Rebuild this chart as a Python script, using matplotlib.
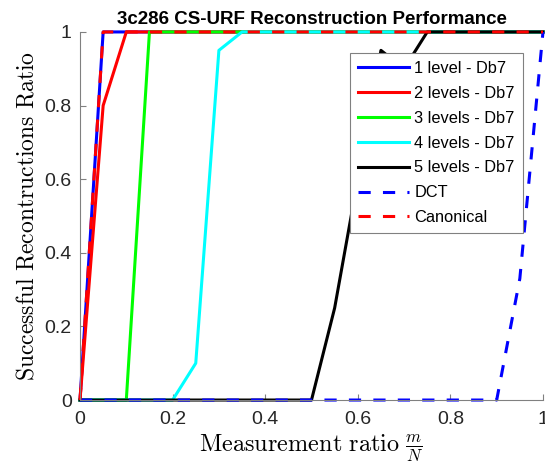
import matplotlib
matplotlib.use('Agg')
import matplotlib.pyplot as plt

plt.rcParams['font.family'] = ['Liberation Sans', 'DejaVu Sans']
plt.rcParams['mathtext.fontset'] = 'cm'

# measurement ratio m/N
ratio = [0.0, 0.05, 0.1, 0.15, 0.2, 0.25, 0.3, 0.35, 0.4, 0.45, 0.5,
         0.55, 0.6, 0.65, 0.7, 0.75, 0.8, 0.85, 0.9, 0.95, 1.0]

lvl1_db7 = [0, 1, 1, 1, 1, 1, 1, 1, 1, 1, 1, 1, 1, 1, 1, 1, 1, 1, 1, 1, 1]
lvl2_db7 = [0, 0.8, 1, 1, 1, 1, 1, 1, 1, 1, 1, 1, 1, 1, 1, 1, 1, 1, 1, 1, 1]
lvl3_db7 = [0, 0, 0, 1, 1, 1, 1, 1, 1, 1, 1, 1, 1, 1, 1, 1, 1, 1, 1, 1, 1]
lvl4_db7 = [0, 0, 0, 0, 0, 0.1, 0.95, 1, 1, 1, 1, 1, 1, 1, 1, 1, 1, 1, 1, 1, 1]
lvl5_db7 = [0, 0, 0, 0, 0, 0, 0, 0, 0, 0, 0, 0.25, 0.6, 0.95, 0.9, 1, 1, 1, 1, 1, 1]
dct = [0, 0, 0, 0, 0, 0, 0, 0, 0, 0, 0, 0, 0, 0, 0, 0, 0, 0, 0, 0.33, 1]
canonical = [0, 1, 1, 1, 1, 1, 1, 1, 1, 1, 1, 1, 1, 1, 1, 1, 1, 1, 1, 1, 1]

labels = ['1 level - Db7', '2 levels - Db7', '3 levels - Db7', '4 levels - Db7',
          '5 levels - Db7', 'DCT', 'Canonical']
ticks = [0, 0.2, 0.4, 0.6, 0.8, 1]
tick_labels = ['0', '0.2', '0.4', '0.6', '0.8', '1']

fig = plt.figure(figsize=(5.45, 4.63), dpi=100)
ax = fig.add_axes([0.1468, 0.136, 0.8495, 0.795])

lw = 2.2
series = [lvl1_db7, lvl2_db7, lvl3_db7, lvl4_db7, lvl5_db7]
colors = ['#0000ff', '#ff0000', '#00ff00', '#00ffff', '#000000']
for y, c, lab in zip(series, colors, labels[:5]):
    ax.plot(ratio, y, color=c, lw=lw, label=lab, clip_on=False)
ax.plot(ratio, dct, color='#0000ff', lw=lw, ls=(0, (4, 4)), label=labels[5], clip_on=False)
ax.plot(ratio, canonical, color='#ff0000', lw=lw, ls=(0, (4, 4)), label=labels[6], clip_on=False)

ax.set_xlim(0, 1)
ax.set_ylim(0, 1)
ax.set_xticks(ticks)
ax.set_xticklabels(tick_labels)
ax.set_yticks(ticks)
ax.set_yticklabels(tick_labels)
ax.tick_params(direction='in', length=4, width=0.8, color='#808080',
               labelsize=14, labelcolor='#262626')
ax.tick_params(axis='x', pad=8)
ax.tick_params(axis='y', pad=6)
for s in ['top', 'right']:
    ax.spines[s].set_visible(False)
for s in ['left', 'bottom']:
    ax.spines[s].set_color('#808080')
    ax.spines[s].set_linewidth(0.8)

ax.set_title('3c286 CS-URF Reconstruction Performance', fontsize=13.5,
             fontweight='bold', pad=6)
ax.set_xlabel(r'$\mathrm{Measurement\ ratio}\ \frac{m}{N}$', fontsize=17.5, labelpad=3)
ax.set_ylabel(r'$\mathrm{Successful\ Recontructions\ Ratio}$', fontsize=17, labelpad=4)

leg = ax.legend(loc='upper right', bbox_to_anchor=(0.957, 0.943), fontsize=11.8,
                handlelength=3.1, handletextpad=0.35, labelspacing=0.6,
                borderpad=0.5, borderaxespad=0, fancybox=False, framealpha=1,
                edgecolor='#808080')
leg.get_frame().set_linewidth(0.8)

fig.savefig('out.png', dpi=100)
